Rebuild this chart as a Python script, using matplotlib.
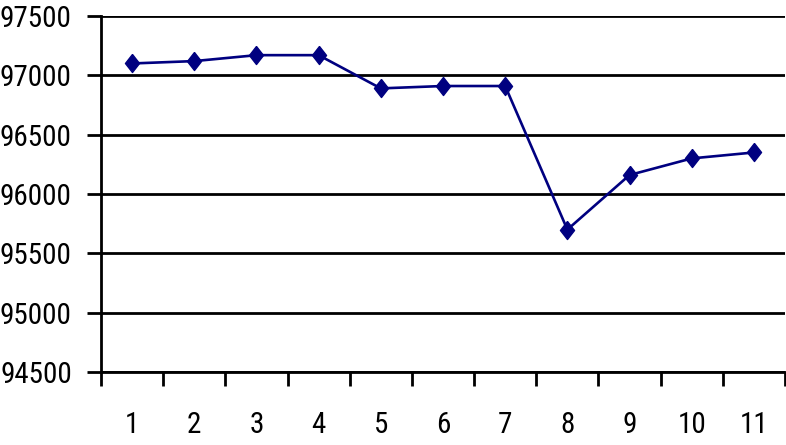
import matplotlib
matplotlib.use("Agg")
import matplotlib.pyplot as plt
from matplotlib.ticker import FixedLocator, NullFormatter
from matplotlib import font_manager as fm

categories = ["1", "2", "3", "4", "5", "6", "7", "8", "9", "10", "11"]
values = [97100, 97120, 97170, 97170, 96890, 96910, 96910, 95700, 96160, 96300, 96350]
y_ticks = [94500, 95000, 95500, 96000, 96500, 97000, 97500]

avail = {f.name for f in fm.fontManager.ttflist}
if 'Liberation Sans Narrow' in avail:
    fam, FS = 'Liberation Sans Narrow', 23
elif 'Roboto Condensed' in avail:
    fam, FS = 'Roboto Condensed', 21
else:
    fam, FS = 'Liberation Sans', 18.5
plt.rcParams['font.family'] = [fam, 'DejaVu Sans']

fig = plt.figure(figsize=(7.86, 4.45), dpi=100)
ax = fig.add_axes([101/786, 1-372/445, (785-101)/786, (372-16)/445])

diamond = [(0, 1), (0.78, 0), (0, -1), (-0.78, 0), (0, 1)]
x = list(range(1, len(categories)+1))
ax.plot(x, values, color='#000080', linewidth=1.9, marker=diamond, markersize=13,
        markerfacecolor='#000080', markeredgecolor='#000080', zorder=3, clip_on=False)

ax.set_xlim(0.5, len(categories)+0.5)
ax.set_ylim(y_ticks[0], y_ticks[-1])
ax.set_yticks(y_ticks)
ax.set_yticklabels([str(v) for v in y_ticks])
for yv in y_ticks:
    ax.axhline(yv, color='black', linewidth=2, zorder=1)

ax.xaxis.set_major_locator(FixedLocator([i + 0.5 for i in range(0, len(categories)+1)]))
ax.xaxis.set_major_formatter(NullFormatter())
ax.xaxis.set_minor_locator(FixedLocator(x))
ax.set_xticklabels(categories, minor=True)
ax.tick_params(axis='x', which='major', length=10, width=2, direction='out')
ax.tick_params(axis='x', which='minor', length=0, pad=28, labelsize=FS)
ax.tick_params(axis='y', length=10, width=2, direction='out', pad=11, labelsize=FS)

for s in ['top', 'right']:
    ax.spines[s].set_visible(False)
ax.spines['left'].set_linewidth(2)
ax.spines['bottom'].set_linewidth(2)

fig.savefig('out.png', dpi=100)
